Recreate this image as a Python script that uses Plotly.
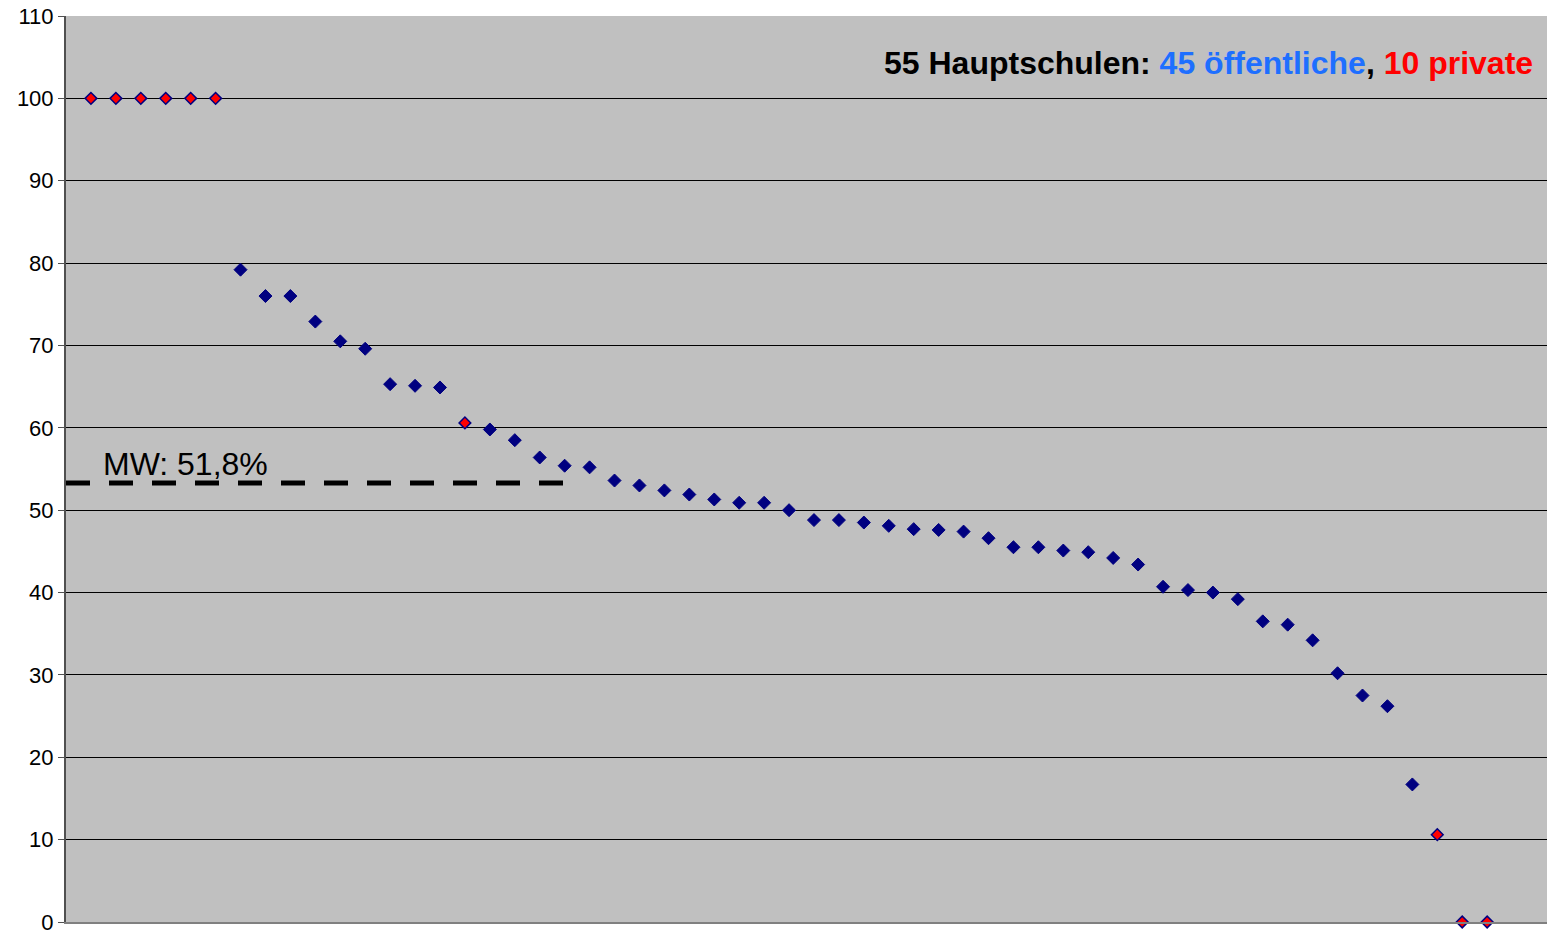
import plotly.graph_objects as go

# Prozentwerte der Schulen (sortiert absteigend)
values = [100, 100, 100, 100, 100, 100,
          79.2, 76.0, 76.0, 72.9, 70.5, 69.6, 65.3, 65.1, 64.9,
          60.6, 59.8, 58.5, 56.4, 55.4, 55.2,
          53.6, 53.0, 52.4, 51.9, 51.3, 50.9, 50.9, 50.0,
          48.8, 48.8, 48.5, 48.1, 47.7, 47.6, 47.4, 46.6,
          45.5, 45.5, 45.1, 44.9, 44.2, 43.4,
          40.7, 40.3, 40.0, 39.2, 36.5, 36.1, 34.2,
          30.2, 27.5, 26.2, 16.7, 10.6, 0, 0]
# Schultyp: "p" = privat, "o" = öffentlich
school_type = ["p"] * 6 + ["o"] * 9 + ["p"] + ["o"] * 38 + ["p"] * 3

mean_value = 53.3          # Position der MW-Linie (aus Bild gelesen)
mean_label = "MW: 51,8%"
mean_line_end = 20.5

y_ticks = list(range(0, 111, 10))

positions = list(range(1, len(values) + 1))

pub_x = [p for p, t in zip(positions, school_type) if t == "o"]
pub_y = [v for v, t in zip(values, school_type) if t == "o"]
priv_x = [p for p, t in zip(positions, school_type) if t == "p"]
priv_y = [v for v, t in zip(values, school_type) if t == "p"]

fig = go.Figure()

fig.add_trace(go.Scatter(
    x=[0, mean_line_end], y=[mean_value, mean_value], mode="lines",
    line=dict(color="black", width=5, dash="24px,19px"),
    hoverinfo="skip", showlegend=False, cliponaxis=False))

fig.add_trace(go.Scatter(
    x=pub_x, y=pub_y, mode="markers", name="öffentlich",
    marker=dict(symbol="diamond", size=10, color="#000080",
                line=dict(color="#000080", width=1)),
    cliponaxis=False, showlegend=False))

fig.add_trace(go.Scatter(
    x=priv_x, y=priv_y, mode="markers", name="privat",
    marker=dict(symbol="diamond", size=9, color="#FF0000",
                line=dict(color="#000080", width=1.5)),
    cliponaxis=False, showlegend=False))

fig.add_annotation(
    x=1.4, y=mean_value, xref="x", yref="y", text=mean_label,
    showarrow=False, xanchor="left", yanchor="bottom", yshift=-1,
    font=dict(family="Liberation Sans, Arial, sans-serif", size=32, color="black"))

fig.add_annotation(
    x=0.992, y=104.3, xref="paper", yref="y",
    text=("<b>55 Hauptschulen: </b><b><span style='color:#1E6FFF'>45 öffentliche</span></b>"
          "<b>, </b><b><span style='color:#FF0000'>10 private</span></b>"),
    showarrow=False, xanchor="right", yanchor="middle",
    font=dict(family="Liberation Sans, Arial, sans-serif", size=32, color="black"))

fig.update_layout(
    width=1547, height=931,
    margin=dict(l=66, r=0, t=16, b=9),
    paper_bgcolor="white", plot_bgcolor="#C0C0C0",
    showlegend=False,
    font=dict(family="Liberation Sans, Arial, sans-serif", color="black"),
)

fig.update_xaxes(
    range=[0, 59.4], showgrid=False, zeroline=False,
    showticklabels=False, ticks="", automargin=False,
    showline=True, linecolor="#808080", linewidth=1.5)

fig.update_yaxes(
    range=[0, 110], tickvals=y_ticks, ticktext=[str(t) for t in y_ticks],
    showgrid=True, gridcolor="black", gridwidth=1, zeroline=False,
    showline=True, linecolor="#505050", linewidth=2,
    ticks="outside", ticklen=6, tickcolor="#505050", tickwidth=1,
    ticklabeloverflow="allow", automargin=False,
    tickfont=dict(size=22, color="black"))

fig.write_html("out.html",
               config={"displayModeBar": False},
               post_script="document.body.style.margin='0';document.body.style.overflow='hidden';")
